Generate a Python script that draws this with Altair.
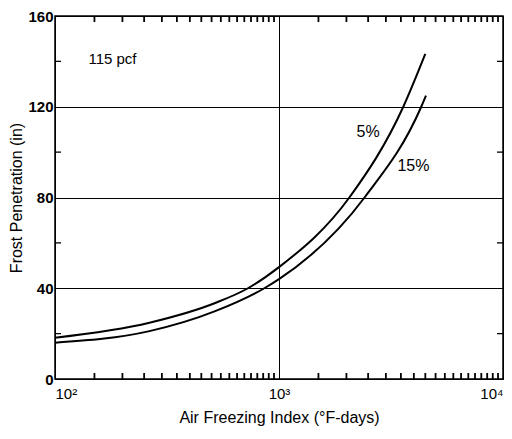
import altair as alt
import pandas as pd

# 5% moisture curve
x5 = [100, 264, 519, 727, 1000, 2061, 3589, 4500]
y5 = [18.2, 24.8, 33.5, 40.0, 49.3, 80.0, 120.0, 143.3]
# 15% moisture curve
x15 = [100, 264, 519, 860, 1000, 2409, 4316, 4530]
y15 = [16.0, 21.1, 29.9, 40.0, 44.0, 80.0, 120.0, 124.9]

x_major = [100, 1000, 10000]
y_major = [0, 40, 80, 120, 160]
x_minor = [150, 200, 250, 300, 350, 400, 450, 500, 550, 600, 650, 700, 750, 800, 850, 900, 950,
           1500, 2000, 2500, 3000, 3500, 4000, 4500, 5000, 5500, 6000, 6500, 7000, 7500, 8000, 8500, 9000, 9500]
y_minor = [20, 60, 100, 140]

note_text = ["115 pcf"]
note_x = [141]
note_y = [139]
curve_labels = ["5%", "15%"]
curve_label_x = [2500, 3981]
curve_label_y = [108.9, 94.0]

X_DOMAIN = [100, 10000]
Y_DOMAIN = [0, 160]
W, H = 448, 363

df = pd.concat([
    pd.DataFrame({"x": x5, "y": y5, "series": "5%"}),
    pd.DataFrame({"x": x15, "y": y15, "series": "15%"}),
])

FONT = "Liberation Sans"
xscale = alt.Scale(type="log", domain=X_DOMAIN, nice=False)
yscale = alt.Scale(domain=Y_DOMAIN, nice=False)

lines = alt.Chart(df).mark_line(color="black", strokeWidth=2, interpolate="monotone").encode(
    x=alt.X("x:Q", scale=xscale, axis=alt.Axis(
        title="Air Freezing Index (°F-days)", values=x_major,
        labelExpr="datum.value == 100 ? '10²' : datum.value == 1000 ? '10³' : '10⁴'",
        grid=True, gridColor="black", gridOpacity=1, gridWidth=1,
        ticks=False, domain=False, labelFontSize=15, labelFont=FONT, labelColor="black",
        labelPadding=7, labelFlush=True, titleFont=FONT, titleFontSize=16, titleFontWeight="normal",
        titleColor="black", titlePadding=8)),
    y=alt.Y("y:Q", scale=yscale, axis=alt.Axis(
        title="Frost Penetration (in)", values=y_major, format="d",
        grid=True, gridColor="black", gridOpacity=1, gridWidth=1,
        ticks=False, domain=False, labelFontSize=15, labelFont=FONT, labelFontWeight="bold",
        labelColor="black", labelPadding=2, labelFlush=False,
        titleFont=FONT, titleFontSize=16, titleFontWeight="normal", titleColor="black", titlePadding=3)),
    detail="series:N",
)

# inward minor ticks along the frame
TICK_X_LEN = 6   # px
TICK_Y_LEN = 6   # px
ty = TICK_X_LEN * (Y_DOMAIN[1] - Y_DOMAIN[0]) / H     # tick length in y units
tx = 10 ** (TICK_Y_LEN * 2 / W)                         # tick length as log-x factor

xtick_df = pd.DataFrame({
    "xm": x_minor + x_minor,
    "y0": [float(Y_DOMAIN[0])] * len(x_minor) + [float(Y_DOMAIN[1])] * len(x_minor),
    "y1": [Y_DOMAIN[0] + ty] * len(x_minor) + [Y_DOMAIN[1] - ty] * len(x_minor),
})
ytick_df = pd.DataFrame({
    "ym": y_minor + y_minor,
    "x0": [float(X_DOMAIN[0])] * len(y_minor) + [float(X_DOMAIN[1])] * len(y_minor),
    "x1": [X_DOMAIN[0] * tx] * len(y_minor) + [X_DOMAIN[1] / tx] * len(y_minor),
})

xtick_layer = alt.Chart(xtick_df).mark_rule(color="black", strokeWidth=1.8).encode(
    x=alt.X("xm:Q", scale=xscale), y=alt.Y("y0:Q", scale=yscale), y2=alt.Y2("y1:Q"))
ytick_layer = alt.Chart(ytick_df).mark_rule(color="black", strokeWidth=1.3).encode(
    y=alt.Y("ym:Q", scale=yscale), x=alt.X("x0:Q", scale=xscale), x2=alt.X2("x1:Q"))

note = alt.Chart(pd.DataFrame({"x": note_x, "y": note_y, "t": note_text})).mark_text(
    align="left", baseline="alphabetic", font=FONT, fontSize=15, color="black").encode(
    x=alt.X("x:Q", scale=xscale), y=alt.Y("y:Q", scale=yscale), text="t:N")

clabels = alt.Chart(pd.DataFrame({"x": curve_label_x, "y": curve_label_y, "t": curve_labels})).mark_text(
    align="center", baseline="middle", font=FONT, fontSize=16, color="black").encode(
    x=alt.X("x:Q", scale=xscale), y=alt.Y("y:Q", scale=yscale), text="t:N")

chart = alt.layer(lines, xtick_layer, ytick_layer, note, clabels).properties(
    width=W, height=H, autosize="none",
    padding={"left": 47, "top": 8, "right": 1, "bottom": 51},
    background="white",
).configure_view(stroke="black", strokeWidth=1.5)

chart.save("out.html", embed_options={"renderer": "svg", "actions": False})
